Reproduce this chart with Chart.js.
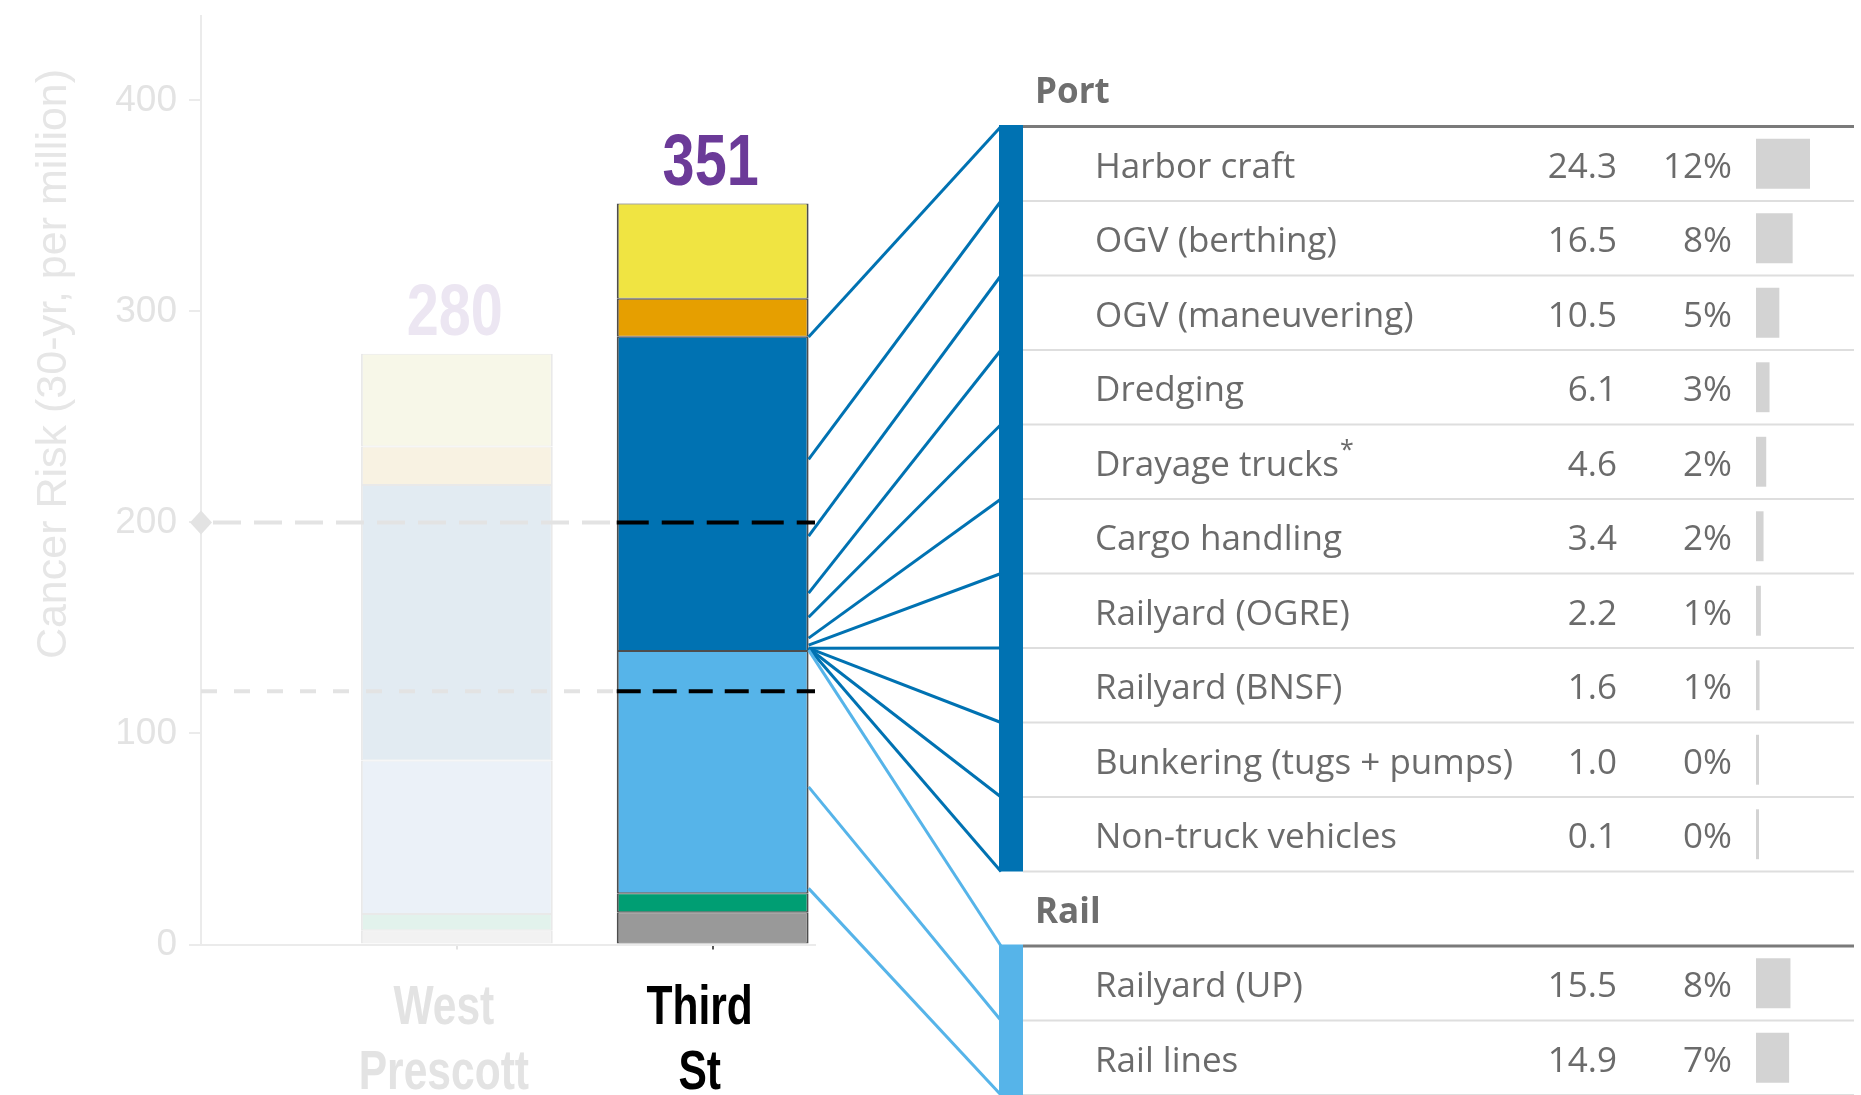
<!DOCTYPE html>
<html>
<head>
<meta charset="utf-8">
<script src="https://cdn.jsdelivr.net/npm/chart.js@4.4.1/dist/chart.umd.min.js"></script>
<style>
html, body { margin: 0; padding: 0; background: #ffffff; overflow: hidden; }
#wrap { position: relative; width: 1861px; height: 1095px; }
#wrap canvas { position: absolute; left: 0; top: 0; }
</style>
</head>
<body>
<div id="wrap">
  <canvas id="main" width="1861" height="1095"></canvas>
  <canvas id="table" width="1861" height="1095"></canvas>
</div>
<script>
// ---------------- DATA ----------------
const locations = [['West', 'Prescott'], ['Third', 'St']];
const locationX = [1, 2];
const segmentNames = ['Other', 'Other (green)', 'Rail', 'Port', 'Other (orange)', 'Other (yellow)'];
const segOther  = [6.7, 15.3];
const segGreen  = [7.7, 9.0];
const segRail   = [72.8, 114.8];
const segPort   = [130.5, 148.9];
const segOrange = [18.3, 18.0];
const segYellow = [44.0, 45.1];
const segmentValues = [segOther, segGreen, segRail, segPort, segOrange, segYellow];

const yTicks = [0, 100, 200, 300, 400];
const yMax = 440;
const yTitle = 'Cancer Risk (30-yr, per million)';

const refValues = [200, 120];
const refHasMarker = [true, false];

const groupNames = ['Port', 'Rail'];
const portLabels = ['Harbor craft', 'OGV (berthing)', 'OGV (maneuvering)', 'Dredging', 'Drayage trucks*',
  'Cargo handling', 'Railyard (OGRE)', 'Railyard (BNSF)', 'Bunkering (tugs + pumps)', 'Non-truck vehicles'];
const portValues = [24.3, 16.5, 10.5, 6.1, 4.6, 3.4, 2.2, 1.6, 1.0, 0.1];
const portPct = [12, 8, 5, 3, 2, 2, 1, 1, 0, 0];
const railLabels = ['Railyard (UP)', 'Rail lines'];
const railValues = [15.5, 14.9];
const railPct = [8, 7];

// connector anchor heights on the Third St bar (risk units)
const portAnchors = [287.9, 229.9, 193.5, 166.5, 155.1, 145.2, 141.9, 140.4, 140.4, 140.4, 140.4];
const railAnchors = [139.5, 74.7, 26.6];

// ---------------- STYLE ----------------
const vivid = ['#999999', '#009E73', '#56B4E9', '#0072B2', '#E69F00', '#F0E442'];
const faded = ['#f2f2f2', '#e2f2ec', '#ebf1f8', '#e2ebf2', '#f8f2e2', '#f7f7e8'];
const barBorder = ['#e9e9e9', '#4d4d4d'];
const labelColors = ['#e3e3e3', '#000000'];
const totalColors = ['#ece6f2', '#6b3a98'];
const axisGrey = '#ebebeb';
const tickGrey = '#e3e3e3';
const helv = "'Liberation Sans', Arial, sans-serif";
const tableFont = "'Open Sans', 'Noto Sans', sans-serif";
const tableText = '#6b6b6b';

// draw condensed bold text by squeezing horizontally
function condensedText(ctx, text, x, y, size, color, squeeze) {
  ctx.save();
  ctx.translate(x, y);
  ctx.scale(squeeze, 1);
  ctx.font = 'bold ' + size + 'px ' + helv;
  ctx.fillStyle = color;
  ctx.textAlign = 'center';
  ctx.textBaseline = 'alphabetic';
  ctx.fillText(text, 0, 0);
  ctx.restore();
}

// ---------------- CHART A (stacked bars) ----------------
const mainPlugin = {
  id: 'mainDecor',
  afterDatasetsDraw(chart) {
    const ctx = chart.ctx, xs = chart.scales.x, ys = chart.scales.y;
    const tsBar = chart.getDatasetMeta(0).data[1];
    const tsLeft = tsBar.x - tsBar.width / 2;
    const greyDash = [[28, 13], [16, 17]];
    const blackDash = [[32, 13], [24, 12]];
    refValues.forEach((v, k) => {
      const py = ys.getPixelForValue(v);
      ctx.save();
      ctx.lineWidth = 4;
      ctx.strokeStyle = '#e3e3e3';
      ctx.setLineDash(greyDash[k]);
      ctx.beginPath(); ctx.moveTo(xs.left + (refHasMarker[k] ? 12 : 0), py); ctx.lineTo(tsLeft, py); ctx.stroke();
      ctx.strokeStyle = '#000000';
      ctx.setLineDash(blackDash[k]);
      ctx.beginPath(); ctx.moveTo(tsLeft, py); ctx.lineTo(xs.right, py); ctx.stroke();
      if (refHasMarker[k]) {
        ctx.setLineDash([]);
        ctx.fillStyle = '#e3e3e3';
        ctx.beginPath();
        ctx.moveTo(xs.left - 11, py); ctx.lineTo(xs.left, py - 12);
        ctx.lineTo(xs.left + 11, py); ctx.lineTo(xs.left, py + 12);
        ctx.closePath(); ctx.fill();
      }
      ctx.restore();
    });
    // totals
    const topMeta = chart.getDatasetMeta(segmentValues.length - 1);
    locationX.forEach((x, j) => {
      const total = segmentValues.reduce((s, arr) => s + arr[j], 0);
      const bar = topMeta.data[j];
      condensedText(ctx, String(Math.round(total)), bar.x - 2, ys.getPixelForValue(total) - 19, 72, totalColors[j], 0.8);
    });
    // category labels
    locationX.forEach((x, j) => {
      const px = xs.getPixelForValue(x) - 13;
      locations[j].forEach((line, li) => {
        condensedText(ctx, line, px, xs.top + 79 + li * 65, 56, labelColors[j], 0.76);
      });
    });
    // y title
    ctx.save();
    ctx.translate(66, 364);
    ctx.rotate(-Math.PI / 2);
    ctx.textAlign = 'center';
    ctx.textBaseline = 'alphabetic';
    ctx.fillStyle = '#e6e6e6';
    ctx.font = '43px ' + helv;
    ctx.fillText(yTitle, 0, 0);
    ctx.restore();
  }
};

const chartA = new Chart(document.getElementById('main'), {
  type: 'bar',
  data: {
    datasets: segmentNames.map((name, i) => ({
      label: name,
      data: locationX.map((x, j) => ({ x: x, y: segmentValues[i][j] })),
      backgroundColor: [faded[i], vivid[i]],
      borderColor: barBorder,
      borderWidth: { left: 2, right: 2, top: 1, bottom: 1 },
      borderSkipped: false,
      barPercentage: 0.75,
      categoryPercentage: 1,
      stack: 'risk'
    }))
  },
  options: {
    responsive: false,
    animation: false,
    layout: { padding: { top: 16, left: 0, right: 1046, bottom: 0 } },
    plugins: { legend: { display: false }, tooltip: { enabled: false } },
    scales: {
      x: {
        type: 'linear', min: 0, max: 2.4, stacked: true, offset: false,
        afterBuildTicks: s => { s.ticks = locationX.map(v => ({ value: v })); },
        afterFit: s => { s.height = 150.5; s.paddingLeft = 0; s.paddingRight = 0; },
        ticks: { display: false },
        grid: { display: true, offset: false, drawOnChartArea: false, drawTicks: true, tickLength: 5, lineWidth: 2,
                color: c => (c.index === 1 ? '#555555' : '#e3e3e3') },
        border: { display: true, color: axisGrey, width: 2 }
      },
      y: {
        stacked: true, min: 0, max: yMax,
        afterBuildTicks: s => { s.ticks = yTicks.map(v => ({ value: v })); },
        afterFit: s => { s.width = 201; s.paddingTop = 0; s.paddingBottom = 0; },
        ticks: { color: tickGrey, font: { family: helv, size: 37 }, padding: 12 },
        grid: { drawOnChartArea: false, drawTicks: true, tickLength: 12, color: axisGrey, lineWidth: 2 },
        border: { display: true, color: axisGrey, width: 2 }
      }
    }
  },
  plugins: [mainPlugin]
});

// ---------------- CHART B (table with mini bars) ----------------
const rowLabels = [groupNames[0], ...portLabels, groupNames[1], ...railLabels];
const rowValues = [null, ...portValues, null, ...railValues];
const rowPct = [null, ...portPct, null, ...railPct];
const rowGroup = [0, ...portLabels.map(() => 0), 1, ...railLabels.map(() => 1)];
const isHeader = rowValues.map(v => v === null);

const tablePlugin = {
  id: 'tableDecor',
  beforeDatasetsDraw(chart) {
    const ctx = chart.ctx, ys = chart.scales.y;
    const half = (ys.getPixelForValue(1) - ys.getPixelForValue(0)) / 2;
    const lineLeft = 1023, lineRight = 1854, bandLeft = 999, bandW = 24;
    const bandColors = [vivid[3], vivid[2]];
    const anchors = [portAnchors, railAnchors];
    const fs = 35;
    // connectors
    const aYs = chartA.scales.y;
    const tsBar = chartA.getDatasetMeta(0).data[1];
    const startX = tsBar.x + tsBar.width / 2;
    groupNames.forEach((g, gi) => {
      const rows = rowLabels.map((l, i) => i).filter(i => rowGroup[i] === gi && !isHeader[i]);
      const bounds = rows.map(i => ys.getPixelForValue(i) - half);
      bounds.push(ys.getPixelForValue(rows[rows.length - 1]) + half);
      ctx.save();
      ctx.strokeStyle = bandColors[gi];
      ctx.lineWidth = 3;
      bounds.forEach((by, k) => {
        ctx.beginPath();
        ctx.moveTo(startX, aYs.getPixelForValue(anchors[gi][k]));
        ctx.lineTo(bandLeft + 2, by);
        ctx.stroke();
      });
      ctx.restore();
      ctx.fillStyle = bandColors[gi];
      ctx.fillRect(bandLeft, bounds[0] - 1.5, bandW, bounds[bounds.length - 1] - bounds[0] + 1.5);
    });
    // rows
    rowLabels.forEach((label, i) => {
      const c = ys.getPixelForValue(i);
      ctx.save();
      if (isHeader[i]) {
        ctx.strokeStyle = '#7a7a7a'; ctx.lineWidth = 3;
        ctx.beginPath(); ctx.moveTo(lineLeft, c + half); ctx.lineTo(lineRight, c + half); ctx.stroke();
        ctx.fillStyle = '#6e6e6e';
        ctx.font = 'bold 35px ' + tableFont;
        ctx.textAlign = 'left'; ctx.textBaseline = 'alphabetic';
        ctx.fillText(label, 1035, c + 14);
      } else {
        ctx.strokeStyle = '#dedede'; ctx.lineWidth = 2;
        ctx.beginPath(); ctx.moveTo(lineLeft, c + half); ctx.lineTo(lineRight, c + half); ctx.stroke();
        ctx.fillStyle = tableText;
        ctx.font = fs + 'px ' + tableFont;
        ctx.textBaseline = 'alphabetic';
        ctx.textAlign = 'left';
        let text = label, star = false;
        if (text.endsWith('*')) { text = text.slice(0, -1); star = true; }
        ctx.fillText(text, 1095, c + 14);
        if (star) {
          const w = ctx.measureText(text).width;
          ctx.font = '25px ' + tableFont;
          ctx.fillText('*', 1095 + w + 1, c - 4);
          ctx.font = fs + 'px ' + tableFont;
        }
        ctx.textAlign = 'right';
        ctx.fillText(rowValues[i].toFixed(1), 1617, c + 14);
        ctx.fillText(rowPct[i] + '%', 1732, c + 14);
      }
      ctx.restore();
    });
  }
};

const chartB = new Chart(document.getElementById('table'), {
  type: 'bar',
  data: {
    labels: rowLabels,
    datasets: [{
      label: 'Contribution',
      data: rowValues,
      backgroundColor: '#d3d3d3',
      barPercentage: 0.67,
      categoryPercentage: 1,
      minBarLength: 3
    }]
  },
  options: {
    indexAxis: 'y',
    responsive: false,
    animation: false,
    layout: { padding: { left: 1756, right: 5, top: 52, bottom: 0 } },
    plugins: { legend: { display: false }, tooltip: { enabled: false } },
    scales: {
      x: { min: 0, max: 45, display: false },
      y: { display: false }
    }
  },
  plugins: [tablePlugin]
});
</script>
</body>
</html>
